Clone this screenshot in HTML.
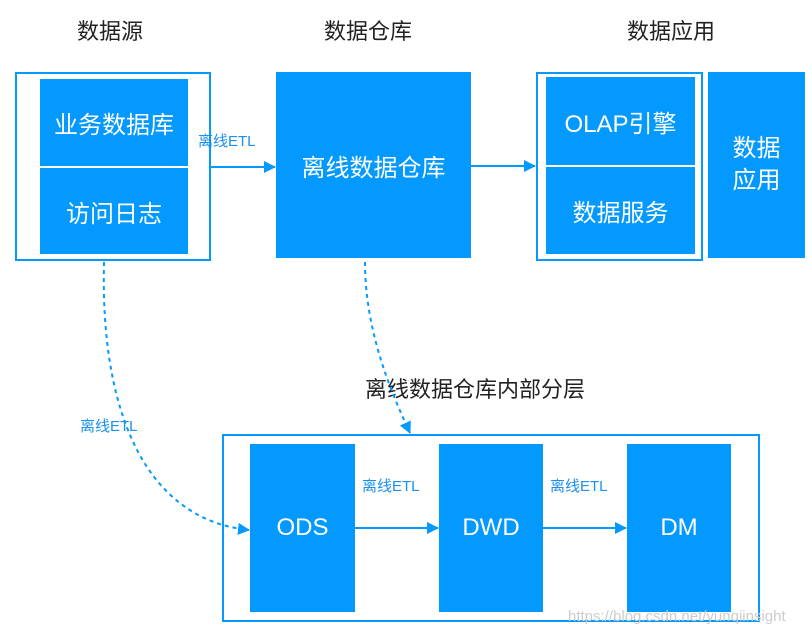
<!DOCTYPE html>
<html><head><meta charset="utf-8"><style>
body{margin:0;width:812px;height:635px;background:#fff;overflow:hidden;position:relative;font-family:"Liberation Sans","Noto Sans CJK SC",sans-serif}
.a{position:absolute;box-sizing:border-box}
.f{background:#0399fe;color:#fff;display:flex;align-items:center;justify-content:center;font-size:24px}
.o{border:2px solid #0399fe}
.h{position:absolute;font-size:22px;color:#222}
.l{position:absolute;font-size:15px;color:#1a90f0}
</style></head><body>
<div class="h" style="left:77px;top:14px">数据源</div>
<div class="h" style="left:324px;top:14px">数据仓库</div>
<div class="h" style="left:627px;top:14px">数据应用</div>
<div class="a o" style="left:15px;top:72px;width:196px;height:189px"></div>
<div class="a f" style="left:40px;top:79px;width:148px;height:87px">业务数据库</div>
<div class="a f" style="left:40px;top:168px;width:148px;height:86px">访问日志</div>
<div class="a f" style="left:276px;top:72px;width:195px;height:186px">离线数据仓库</div>
<div class="a o" style="left:536px;top:72px;width:167px;height:189px"></div>
<div class="a f" style="left:546px;top:77px;width:149px;height:88px">OLAP引擎</div>
<div class="a f" style="left:546px;top:167px;width:149px;height:87px">数据服务</div>
<div class="a f" style="left:708px;top:72px;width:97px;height:186px;line-height:1.35;text-align:center">数据<br>应用</div>
<div class="l" style="left:198px;top:130px">离线ETL</div>
<div class="h" style="left:365px;top:372px">离线数据仓库内部分层</div>
<div class="a o" style="left:222px;top:434px;width:538px;height:188px"></div>
<div class="a f" style="left:250px;top:444px;width:105px;height:168px">ODS</div>
<div class="a f" style="left:439px;top:444px;width:104px;height:168px">DWD</div>
<div class="a f" style="left:627px;top:444px;width:104px;height:168px">DM</div>
<div class="l" style="left:362px;top:475px">离线ETL</div>
<div class="l" style="left:550px;top:475px">离线ETL</div>
<div class="l" style="left:80px;top:415px">离线ETL</div>
<div style="position:absolute;left:568px;top:608px;font-size:15px;color:#ccc">https://blog.csdn.net/yunqiinsight</div>
<svg width="812" height="635" style="position:absolute;left:0;top:0">
<defs><marker id="m" markerWidth="8" markerHeight="8" refX="7" refY="4" orient="auto" markerUnits="userSpaceOnUse" viewBox="0 0 8 8"><path d="M0,0L8,4L0,8z" fill="#0399fe"/></marker>
<marker id="n" markerWidth="12" markerHeight="12" refX="11" refY="6" orient="auto" markerUnits="userSpaceOnUse"><path d="M0,0L12,6L0,12z" fill="#0399fe"/></marker></defs>
<g stroke="#0399fe" stroke-width="2" fill="none">
<line x1="211" y1="167" x2="275" y2="167" marker-end="url(#n)"/>
<line x1="471" y1="166" x2="535" y2="166" marker-end="url(#n)"/>
<line x1="355" y1="528" x2="438" y2="528" marker-end="url(#n)"/>
<line x1="543" y1="528" x2="626" y2="528" marker-end="url(#n)"/>
<path d="M104,262 C100,420 150,520 249,530" stroke-dasharray="4,4" marker-end="url(#n)"/>
<path d="M365,262 C365,330 390,390 410,433" stroke-dasharray="4,4" marker-end="url(#n)"/>
</g></svg>
</body></html>
